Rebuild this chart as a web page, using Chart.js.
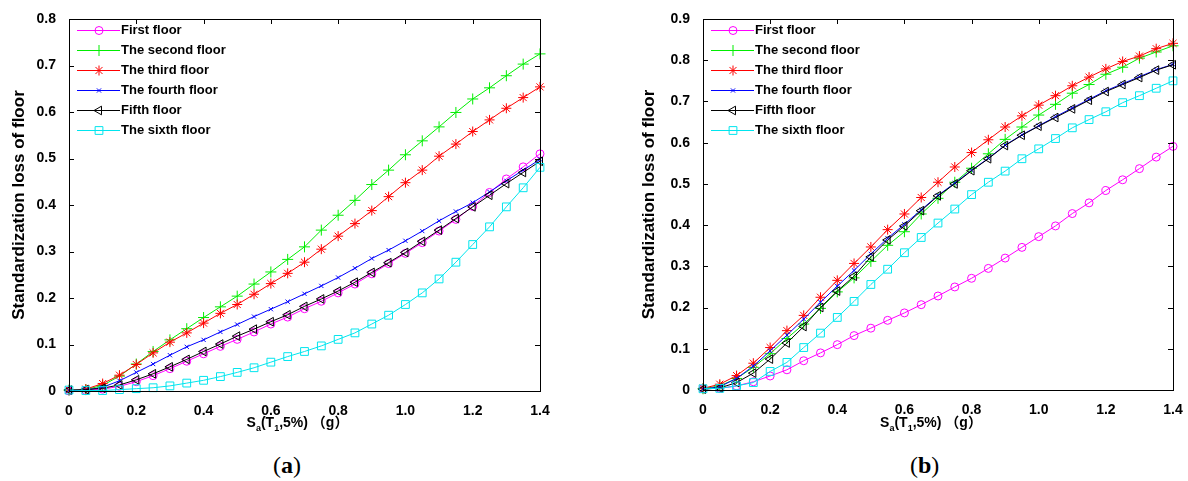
<!DOCTYPE html>
<html>
<head>
<meta charset="utf-8">
<script src="https://cdn.jsdelivr.net/npm/chart.js@4.4.1/dist/chart.umd.min.js"></script>
<style>
  html, body { margin: 0; padding: 0; background: #fff; }
  #wrap { position: relative; width: 1188px; height: 481px; overflow: hidden; }
  canvas { position: absolute; top: 0; }
  #cA { left: 0; }
  #cB { left: 594px; }
  .sub { position: absolute; top: 450px; font-family: 'Liberation Serif', 'DejaVu Serif', serif; font-size: 24px; line-height: 30px; color: #000; }
</style>
</head>
<body>
<div id="wrap">
  <canvas id="cA" width="594" height="440"></canvas>
  <canvas id="cB" width="594" height="440"></canvas>
  <div class="sub" style="left:273px">(<b>a</b>)</div>
  <div class="sub" style="left:910px">(<b>b</b>)</div>
</div>
<script>
// ── Data ────────────────────────────────────────────────────────────────────
const seriesNames = ['First floor', 'The second floor', 'The third floor', 'The fourth floor', 'Fifth floor', 'The sixth floor'];

const sa = [0, 0.05, 0.1, 0.15, 0.2, 0.25, 0.3, 0.35, 0.4, 0.45, 0.5, 0.55, 0.6, 0.65, 0.7,
            0.75, 0.8, 0.85, 0.9, 0.95, 1.0, 1.05, 1.1, 1.15, 1.2, 1.25, 1.3, 1.35, 1.4];

const xTicks  = [0, 0.2, 0.4, 0.6, 0.8, 1, 1.2, 1.4];
const yTicksA = [0, 0.1, 0.2, 0.3, 0.4, 0.5, 0.6, 0.7, 0.8];
const yTicksB = [0, 0.1, 0.2, 0.3, 0.4, 0.5, 0.6, 0.7, 0.8, 0.9];

// (a)
const firstA  = [0, 0.001, 0.004, 0.01, 0.02, 0.033, 0.048, 0.064, 0.08, 0.096, 0.111, 0.127, 0.144, 0.159, 0.177,
                 0.193, 0.211, 0.23, 0.252, 0.274, 0.296, 0.319, 0.344, 0.369, 0.397, 0.427, 0.456, 0.482, 0.51];
const secondA = [0.002, 0.003, 0.012, 0.032, 0.058, 0.085, 0.11, 0.134, 0.158, 0.181, 0.204, 0.23, 0.256, 0.283, 0.31,
                 0.346, 0.378, 0.41, 0.444, 0.475, 0.508, 0.538, 0.568, 0.599, 0.628, 0.652, 0.678, 0.703, 0.725];
const thirdA  = [0.002, 0.004, 0.016, 0.034, 0.057, 0.082, 0.105, 0.125, 0.146, 0.167, 0.186, 0.208, 0.231, 0.253, 0.277,
                 0.305, 0.333, 0.36, 0.388, 0.418, 0.448, 0.475, 0.505, 0.531, 0.558, 0.583, 0.608, 0.631, 0.654];
const fourthA = [0.001, 0.002, 0.008, 0.022, 0.04, 0.058, 0.077, 0.095, 0.11, 0.127, 0.143, 0.16, 0.176, 0.192, 0.209,
                 0.226, 0.244, 0.264, 0.285, 0.303, 0.323, 0.344, 0.366, 0.386, 0.405, 0.428, 0.452, 0.475, 0.498];
const fifthA  = [0.002, 0.003, 0.006, 0.013, 0.024, 0.037, 0.052, 0.068, 0.085, 0.101, 0.118, 0.133, 0.149, 0.164, 0.182,
                 0.198, 0.215, 0.234, 0.255, 0.276, 0.298, 0.322, 0.346, 0.371, 0.396, 0.421, 0.446, 0.47, 0.494];
const sixthA  = [0.002, 0.001, 0.001, 0.003, 0.005, 0.007, 0.011, 0.017, 0.023, 0.031, 0.04, 0.05, 0.062, 0.074, 0.085,
                 0.097, 0.111, 0.125, 0.144, 0.163, 0.186, 0.211, 0.241, 0.277, 0.315, 0.353, 0.396, 0.437, 0.481];

// (b)
const firstB  = [0.003, 0.004, 0.01, 0.02, 0.034, 0.049, 0.071, 0.09, 0.11, 0.132, 0.15, 0.169, 0.187, 0.207, 0.228,
                 0.25, 0.271, 0.295, 0.32, 0.346, 0.372, 0.398, 0.428, 0.454, 0.484, 0.51, 0.537, 0.565, 0.591];
const secondB = [0.003, 0.01, 0.028, 0.055, 0.088, 0.125, 0.16, 0.198, 0.238, 0.272, 0.312, 0.351, 0.384, 0.427, 0.465,
                 0.504, 0.538, 0.573, 0.608, 0.638, 0.667, 0.693, 0.72, 0.741, 0.766, 0.783, 0.805, 0.82, 0.835];
const thirdB  = [0.004, 0.014, 0.035, 0.065, 0.103, 0.144, 0.181, 0.225, 0.266, 0.307, 0.347, 0.389, 0.427, 0.467, 0.504,
                 0.541, 0.576, 0.607, 0.638, 0.665, 0.691, 0.714, 0.738, 0.759, 0.779, 0.797, 0.81, 0.828, 0.841];
const fourthB = [0.002, 0.008, 0.028, 0.058, 0.095, 0.133, 0.172, 0.213, 0.252, 0.29, 0.33, 0.368, 0.402, 0.437, 0.472,
                 0.502, 0.533, 0.562, 0.594, 0.619, 0.641, 0.663, 0.684, 0.705, 0.726, 0.743, 0.76, 0.777, 0.79];
const fifthB  = [0.002, 0.005, 0.018, 0.041, 0.075, 0.114, 0.154, 0.2, 0.24, 0.276, 0.323, 0.364, 0.398, 0.435, 0.471,
                 0.5, 0.532, 0.561, 0.593, 0.618, 0.64, 0.661, 0.682, 0.703, 0.724, 0.741, 0.758, 0.776, 0.789];
const sixthB  = [0.003, 0.004, 0.01, 0.018, 0.045, 0.067, 0.103, 0.138, 0.176, 0.215, 0.256, 0.293, 0.333, 0.37, 0.405,
                 0.439, 0.474, 0.504, 0.531, 0.561, 0.585, 0.61, 0.636, 0.656, 0.675, 0.697, 0.714, 0.732, 0.75];

// ── Styling ────────────────────────────────────────────────────────────────
const STYLES = [
  { color: '#ff00ff', pointStyle: 'circle',   radius: 4,   rotation: 0 },
  { color: '#00ee00', pointStyle: 'cross',    radius: 5.5, rotation: 0 },
  { color: '#ff0000', pointStyle: 'star',     radius: 5,   rotation: 0 },
  { color: '#0000ff', pointStyle: 'crossRot', radius: 3,   rotation: 0 },
  { color: '#000000', pointStyle: 'triangle', radius: 5,   rotation: -90 },
  { color: '#00e5ee', pointStyle: 'rect',     radius: 5.5, rotation: 0 },
];
const TICK_FONT = { family: "'Liberation Sans', Arial, sans-serif", size: 14, weight: 'bold' };
const LABEL_FONT = "bold 13px 'Liberation Sans', Arial, sans-serif";

function buildDatasets(seriesList) {
  return seriesList.map((vals, i) => {
    const s = STYLES[i];
    return {
      label: seriesNames[i],
      data: sa.map((x, k) => ({ x, y: vals[k] })),
      borderColor: s.color, backgroundColor: 'transparent',
      borderWidth: 1, pointBorderWidth: 1,
      pointStyle: s.pointStyle, pointRadius: s.radius, pointRotation: s.rotation,
      pointBorderColor: s.color, pointBackgroundColor: 'transparent',
      tension: 0, clip: false, order: seriesNames.length - i,
    };
  });
}

// Box, inward ticks, in-axes legend and subscripted x title (MATLAB look)
const matlabFrame = {
  id: 'matlabFrame',
  afterDraw(chart, args, opts) {
    const { ctx, chartArea: a, scales } = chart;
    ctx.save();
    ctx.strokeStyle = '#000';
    ctx.lineWidth = 1;
    ctx.strokeRect(Math.round(a.left) + 0.5, Math.round(a.top) + 0.5, Math.round(a.right - a.left), Math.round(a.bottom - a.top));
    ctx.beginPath();
    opts.xTicks.forEach(v => {
      const px = Math.round(scales.x.getPixelForValue(v)) + 0.5;
      ctx.moveTo(px, a.top); ctx.lineTo(px, a.top + 5);
    });
    opts.yTicks.forEach(v => {
      const py = Math.round(scales.y.getPixelForValue(v)) + 0.5;
      ctx.moveTo(a.left, py); ctx.lineTo(a.left + 5, py);
      ctx.moveTo(a.right, py); ctx.lineTo(a.right - 5, py);
    });
    ctx.stroke();

    // legend
    chart.data.datasets.forEach((ds, i) => {
      const y = opts.legendY + i * 20;
      const x0 = opts.legendX;
      ctx.strokeStyle = ds.borderColor;
      ctx.fillStyle = 'rgba(0,0,0,0)';
      ctx.lineWidth = 1;
      ctx.beginPath();
      ctx.moveTo(x0, y + 0.5); ctx.lineTo(x0 + 43, y + 0.5);
      ctx.stroke();
      Chart.helpers.drawPoint(ctx, {
        pointStyle: ds.pointStyle, radius: ds.pointRadius, rotation: ds.pointRotation, borderWidth: 1,
      }, x0 + 22, y + 0.5);
      ctx.fillStyle = '#000';
      ctx.font = LABEL_FONT;
      ctx.textBaseline = 'middle';
      ctx.textAlign = 'left';
      ctx.fillText(ds.label, x0 + 44, y);
    });

    // x-axis title: S_a(T_1,5%)（g）
    const parts = [
      ['S', 0, 14], ['a', 4, 9], ['(T', 0, 14], ['1', 4, 9], [',5%)', 0, 14], [' \uFF08g\uFF09', 0, 14],
    ];
    const fontFor = sz => `bold ${sz}px 'Liberation Sans', 'Noto Sans CJK SC', Arial, sans-serif`;
    let total = 0;
    parts.forEach(p => { ctx.font = fontFor(p[2]); total += ctx.measureText(p[0]).width; });
    let x = (a.left + a.right) / 2 + opts.titleShift - total / 2;
    const base = opts.titleBase;
    ctx.fillStyle = '#000';
    ctx.textBaseline = 'alphabetic';
    parts.forEach(p => {
      ctx.font = fontFor(p[2]);
      ctx.fillText(p[0], x, base + p[1]);
      x += ctx.measureText(p[0]).width;
    });
    ctx.restore();
  },
};

function makeChart(id, seriesList, yMax, yTicks, geo) {
  const ctx = document.getElementById(id);
  return new Chart(ctx, {
    type: 'line',
    data: { datasets: buildDatasets(seriesList) },
    plugins: [matlabFrame],
    options: {
      responsive: false, animation: false, devicePixelRatio: 1,
      layout: { padding: { left: 0, right: geo.padRight, top: geo.padTop, bottom: 0 } },
      plugins: {
        legend: { display: false }, tooltip: { enabled: false },
        matlabFrame: { xTicks, yTicks, legendX: geo.legendX, legendY: 30, titleShift: -7, titleBase: 427 },
      },
      scales: {
        x: {
          type: 'linear', min: 0, max: 1.4,
          afterBuildTicks: s => { s.ticks = xTicks.map(v => ({ value: v })); },
          afterFit: s => { s.height = geo.xHeight; },
          grid: { display: false }, border: { display: false },
          ticks: { color: '#000', font: TICK_FONT, padding: 4, maxRotation: 0, autoSkip: false },
        },
        y: {
          type: 'linear', min: 0, max: yMax,
          afterBuildTicks: s => { s.ticks = yTicks.map(v => ({ value: v })); },
          afterFit: s => { s.width = geo.yWidth; },
          grid: { display: false }, border: { display: false },
          ticks: { color: '#000', font: TICK_FONT, padding: 5, autoSkip: false },
          title: {
            display: true, text: 'Standardization loss of floor', color: '#000',
            font: { family: "'Liberation Sans', Arial, sans-serif", size: 17, weight: 'bold' },
            padding: { top: geo.titlePad, bottom: 0 },
          },
        },
      },
    },
  });
}

makeChart('cA', [firstA, secondA, thirdA, fourthA, fifthA, sixthA], 0.8, yTicksA,
  { padRight: 54, padTop: 19, xHeight: 49, yWidth: 69, legendX: 77, titlePad: 9 });
makeChart('cB', [firstB, secondB, thirdB, fourthB, fifthB, sixthB], 0.9, yTicksB,
  { padRight: 15, padTop: 19, xHeight: 50, yWidth: 109, legendX: 117, titlePad: 45 });
</script>
</body>
</html>
